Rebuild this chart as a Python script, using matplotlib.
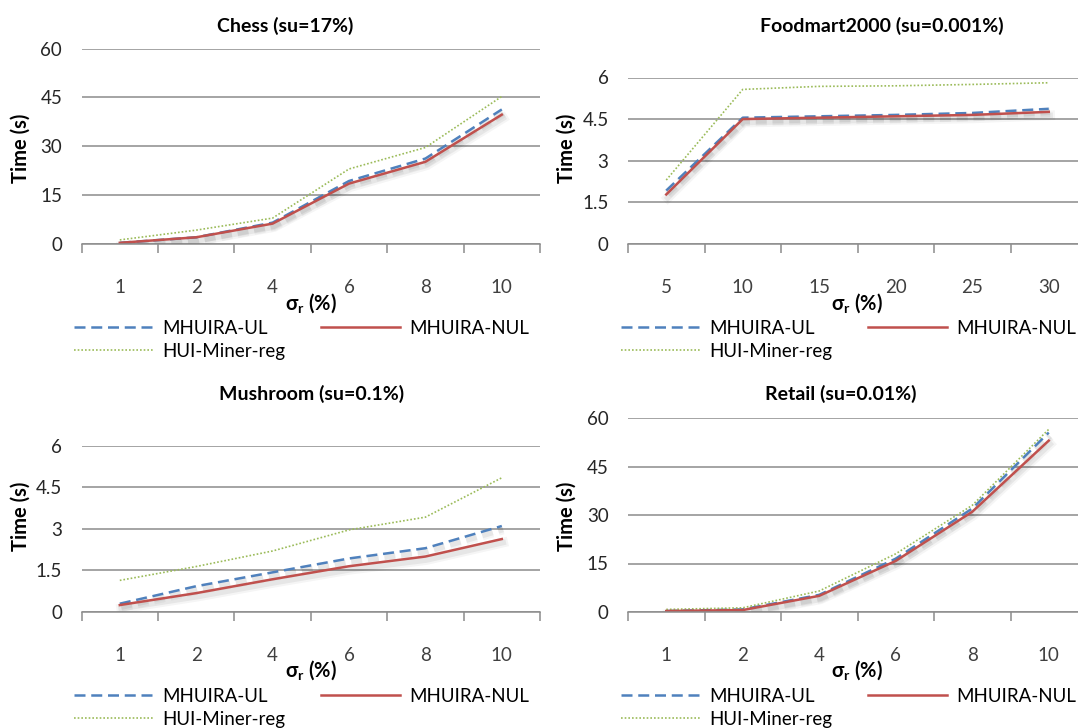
import numpy as np
import matplotlib
matplotlib.use("Agg")
import matplotlib.pyplot as plt
import matplotlib.patheffects as pe

plt.rcParams['font.family'] = ['Lato', 'DejaVu Sans']
plt.rcParams['font.size'] = 13.5

# run time (s) per relative support threshold
chess_x = ['1', '2', '4', '6', '8', '10']
chess_ul = [0.3, 2.0, 6.5, 19.3, 26.2, 41.3]
chess_nul = [0.3, 2.0, 6.2, 18.5, 25.2, 39.7]
chess_hui = [1.2, 4.2, 7.9, 23.0, 29.6, 45.3]

food_x = ['5', '10', '15', '20', '25', '30']
food_ul = [1.92, 4.55, 4.6, 4.65, 4.72, 4.87]
food_nul = [1.78, 4.5, 4.55, 4.6, 4.65, 4.76]
food_hui = [2.3, 5.57, 5.68, 5.7, 5.75, 5.81]

mush_x = ['1', '2', '4', '6', '8', '10']
mush_ul = [0.3, 0.93, 1.43, 1.93, 2.3, 3.1]
mush_nul = [0.25, 0.68, 1.18, 1.65, 2.0, 2.63]
mush_hui = [1.14, 1.64, 2.2, 2.96, 3.42, 4.84]

retail_x = ['1', '2', '4', '6', '8', '10']
retail_ul = [0.3, 0.8, 5.3, 16.5, 32.0, 55.5]
retail_nul = [0.3, 0.6, 5.0, 15.8, 31.0, 53.0]
retail_hui = [0.8, 1.3, 6.5, 18.0, 33.0, 56.5]

W, H = 1078, 728
fig = plt.figure(figsize=(W / 100, H / 100), dpi=100)

def px_axes(x0, x1, ytop, ybot):
    return fig.add_axes([x0 / W, 1 - ybot / H, (x1 - x0) / W, (ybot - ytop) / H])

# soft drop shadow under the two main series
shadow = [pe.SimpleLineShadow(offset=(1, -2.5), shadow_color='k', alpha=0.04, linewidth=7),
          pe.SimpleLineShadow(offset=(1, -2.5), shadow_color='k', alpha=0.06, linewidth=4),
          pe.Normal()]

def panel(x0, x1, ytop, ybot, title, title_xy, cats, ul, nul, hui, ymax, yticks, ylab_xy, leg_xy):
    ax = px_axes(x0, x1, ytop, ybot)
    x = np.arange(len(cats))
    ax.plot(x, ul, color='#4F81BD', lw=1.8, ls=(0, (4.4, 2.3)), path_effects=shadow, label='MHUIRA-UL')
    ax.plot(x, hui, color='#9BBB59', lw=1.2, ls=(0, (1, 1.2)), label='HUI-Miner-reg')
    ax.plot(x, nul, color='#C0504D', lw=1.8, path_effects=shadow, label='MHUIRA-NUL')
    ax.set_xlim(-0.5, len(cats) - 0.5)
    ax.set_ylim(0, ymax)
    ax.set_yticks(yticks)
    ax.set_yticklabels([('%g' % v) for v in yticks])
    ax.set_xticks(x)
    ax.set_xticklabels(cats)
    ax.set_xticks(np.arange(len(cats) + 1) - 0.5, minor=True)
    ax.tick_params(axis='x', which='major', length=0, pad=25, labelsize=13.5, colors='#404040')
    ax.tick_params(axis='x', which='minor', length=6.5, width=1.1, color='#8C8C8C')
    ax.tick_params(axis='y', length=0, pad=14, labelsize=13.5, colors='#262626')
    ax.grid(axis='y', color='#8C8C8C', lw=1.1)
    ax.set_axisbelow(True)
    for s in ['top', 'right', 'left']:
        ax.spines[s].set_visible(False)
    ax.spines['bottom'].set_color('#8C8C8C')
    ax.spines['bottom'].set_linewidth(1.1)

    fig.text(title_xy[0] / W, 1 - title_xy[1] / H, title, ha='center', va='center',
             fontsize=14, fontweight='bold')
    fig.text(ylab_xy[0] / W, 1 - ylab_xy[1] / H, 'Time (s)', rotation=90, ha='center', va='center',
             fontsize=14.5, fontweight='bold')
    fig.text(title_xy[2] / W, 1 - title_xy[3] / H, r'σ$_\mathregular{r}$ (%)', ha='center', va='center',
             fontsize=14.5, fontweight='bold')

    leg = ax.legend(loc='upper left', bbox_to_anchor=(leg_xy[0] / W, 1 - leg_xy[1] / H),
                    bbox_transform=fig.transFigure, ncol=2, frameon=False, fontsize=13.5,
                    handlelength=4.2, handletextpad=0.5, columnspacing=1.9, labelspacing=0.3,
                    borderpad=0, borderaxespad=0)
    for ln in leg.get_lines():
        ln.set_path_effects([])
    return ax

panel(81.6, 540, 48.6, 243.8, 'Chess (su=17%)', (285, 26, 311, 303),
      chess_x, chess_ul, chess_nul, chess_hui, 60, [0, 15, 30, 45, 60], (21, 148), (74, 320))
panel(628, 1087, 77.5, 243.8, 'Foodmart2000 (su=0.001%)', (882, 26, 857, 303),
      food_x, food_ul, food_nul, food_hui, 6, [0, 1.5, 3, 4.5, 6], (567, 148), (621, 320))
panel(81.6, 540, 445.6, 612, 'Mushroom (su=0.1%)', (312, 394, 311, 670),
      mush_x, mush_ul, mush_nul, mush_hui, 6, [0, 1.5, 3, 4.5, 6], (21, 516), (74, 688))
panel(628, 1087, 418, 612, 'Retail (su=0.01%)', (841, 394, 857, 670),
      retail_x, retail_ul, retail_nul, retail_hui, 60, [0, 15, 30, 45, 60], (567, 516), (621, 688))

fig.savefig('out.png', dpi=100)
